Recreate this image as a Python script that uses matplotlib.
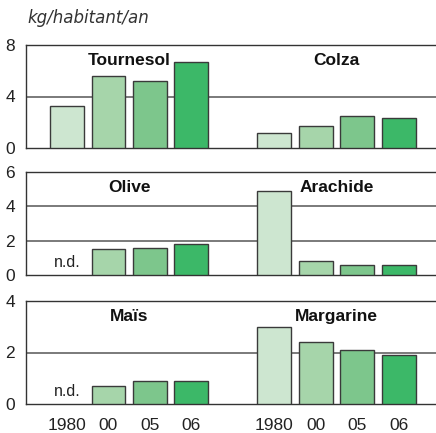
import matplotlib
matplotlib.use("Agg")
import matplotlib.pyplot as plt

years = ["1980", "00", "05", "06"]
colors = ["#cde6d0", "#a6d5aa", "#7dc68c", "#3cb868"]

rows = [
    {"left": "Tournesol", "left_vals": [3.3, 5.6, 5.2, 6.7],
     "right": "Colza", "right_vals": [1.2, 1.7, 2.5, 2.3],
     "ymax": 8, "ticks": [0, 4, 8]},
    {"left": "Olive", "left_vals": [None, 1.5, 1.6, 1.8],
     "right": "Arachide", "right_vals": [4.9, 0.8, 0.6, 0.6],
     "ymax": 6, "ticks": [0, 2, 4, 6]},
    {"left": "Maïs", "left_vals": [None, 0.7, 0.9, 0.9],
     "right": "Margarine", "right_vals": [3.0, 2.4, 2.1, 1.9],
     "ymax": 4, "ticks": [0, 2, 4]},
]

unit_label = "kg/habitant/an"
nd_label = "n.d."

plt.rcParams['font.family'] = ['Liberation Sans', 'DejaVu Sans']

W, H = 436, 433
fig = plt.figure(figsize=(W / 100, H / 100), dpi=100)

row_tops = [45, 172, 301]
ax_h = 103
left_px = 26

pos_left = [0, 1, 2, 3]
pos_right = [5, 6, 7, 8]

for r, row in enumerate(rows):
    top = row_tops[r]
    ax = fig.add_axes([left_px / W, (H - top - ax_h) / H, (W - left_px) / W, ax_h / H])
    ax.set_xlim(-0.99, 8.9)
    ax.set_ylim(0, row["ymax"])
    for vals, pos in ((row["left_vals"], pos_left), (row["right_vals"], pos_right)):
        for v, p, c in zip(vals, pos, colors):
            if v is None:
                ax.text(p, row["ymax"] * 0.05, nd_label,
                        ha="center", va="bottom", fontsize=11.5, color="#222")
                continue
            ax.bar(p, v, width=0.82, color=c, edgecolor="#3a3a3a", linewidth=1.0, zorder=3)
    # gridlines
    for t in row["ticks"][1:-1]:
        ax.axhline(t, color="#6f6f6f", lw=1.3, zorder=1)
    ax.set_yticks(row["ticks"])
    ax.set_yticklabels([str(t) for t in row["ticks"]], fontsize=12.5, color="#222")
    ax.tick_params(axis="y", length=0, pad=8)
    ax.spines["right"].set_visible(False)
    for s in ["top", "left", "bottom"]:
        ax.spines[s].set_color("#333333")
        ax.spines[s].set_linewidth(1.0)
    # titles
    ax.text(1.5, row["ymax"] * 0.85, row["left"], ha="center", va="center",
            fontsize=12.5, fontweight="bold", color="#111", zorder=4)
    ax.text(6.5, row["ymax"] * 0.85, row["right"], ha="center", va="center",
            fontsize=12.5, fontweight="bold", color="#111", zorder=4)
    if r == 2:
        ax.set_xticks(pos_left + pos_right)
        ax.set_xticklabels(years + years, fontsize=12.5, color="#222")
        ax.tick_params(axis="x", length=0, pad=10)
    else:
        ax.set_xticks([])

fig.text(27 / W, 1 - 18 / H, unit_label, ha="left", va="center",
         fontsize=12, style="italic", color="#333", family=["DejaVu Sans"])

fig.savefig("out.png", dpi=100)
